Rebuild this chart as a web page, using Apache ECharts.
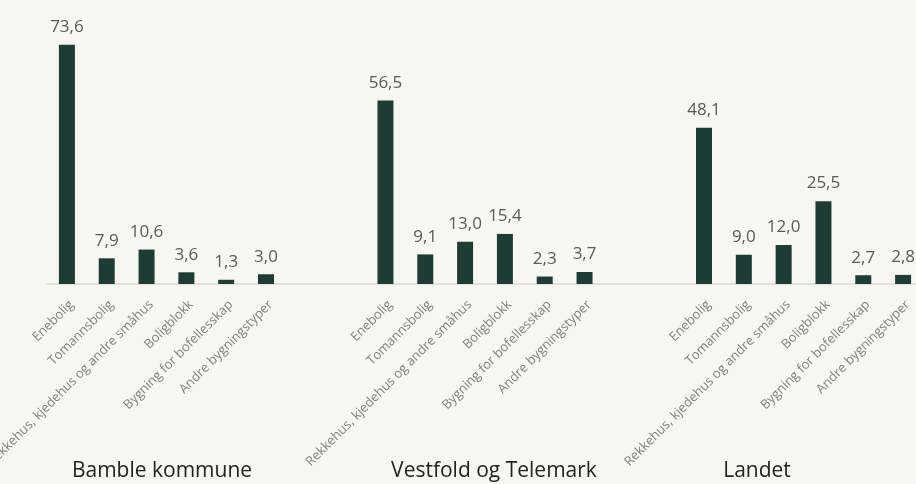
<!DOCTYPE html>
<html>
<head>
<meta charset="utf-8">
<script src="https://cdn.jsdelivr.net/npm/echarts@6/dist/echarts.min.js"></script>
<style>
  html, body { margin: 0; padding: 0; background: #f6f6f2; }
  #chart { width: 916px; height: 484px; }
</style>
</head>
<body>
<div id="chart"></div>
<script>
// ---- data ----
const buildingTypes = ["Enebolig", "Tomannsbolig", "Rekkehus, kjedehus og andre småhus", "Boligblokk", "Bygning for bofellesskap", "Andre bygningstyper"];
const regions = ["Bamble kommune", "Vestfold og Telemark", "Landet"];
const bambleValues = [73.6, 7.9, 10.6, 3.6, 1.3, 3.0];
const vestfoldValues = [56.5, 9.1, 13.0, 15.4, 2.3, 3.7];
const landetValues = [48.1, 9.0, 12.0, 25.5, 2.7, 2.8];
const regionLabelX = [162, 494, 757];

// ---- build flat category axis with blank gaps between regions ----
const groupValues = [bambleValues, vestfoldValues, landetValues];
const cats = [];
const vals = [];
groupValues.forEach((g, gi) => {
  buildingTypes.forEach((t, i) => { cats.push(t); vals.push(g[i]); });
  if (gi < groupValues.length - 1) {
    cats.push(" " + gi + "a"); vals.push(null);
    cats.push(" " + gi + "b"); vals.push(null);
  }
});

const FONT = "'Open Sans'";
const chart = echarts.init(document.getElementById("chart"), null, { renderer: "canvas" });
chart.setOption({
  backgroundColor: "#f6f6f2",
  animation: false,
  textStyle: { fontFamily: FONT },
  grid: { left: 47, top: 24, width: 876, height: 260, containLabel: false, outerBoundsMode: "none" },
  xAxis: {
    type: "category",
    data: cats,
    axisLine: { show: true, lineStyle: { color: "#d9d9d9", width: 1.5 } },
    axisTick: { show: false },
    axisLabel: {
      interval: 0,
      rotate: 45,
      margin: 14,
      verticalAlign: "top",
      color: "#7f7f7f",
      fontSize: 13,
      fontFamily: FONT,
      formatter: v => v.startsWith(" ") ? "" : v
    }
  },
  yAxis: {
    type: "value",
    min: 0, max: 80,
    show: false,
    splitLine: { show: false }
  },
  series: [{
    type: "bar",
    data: vals,
    barWidth: 16,
    itemStyle: { color: "#1f3c34" },
    label: {
      show: true,
      position: "top",
      distance: 9,
      color: "#595959",
      fontSize: 17,
      fontFamily: FONT,
      formatter: p => p.value == null ? "" : p.value.toFixed(1).replace(".", ",")
    }
  }],
  graphic: regions.map((r, i) => ({
    type: "text",
    x: regionLabelX[i],
    y: 471,
    style: { text: r, fill: "#222222", font: "21px " + FONT, textAlign: "center", textVerticalAlign: "middle" }
  }))
});
</script>
</body>
</html>
